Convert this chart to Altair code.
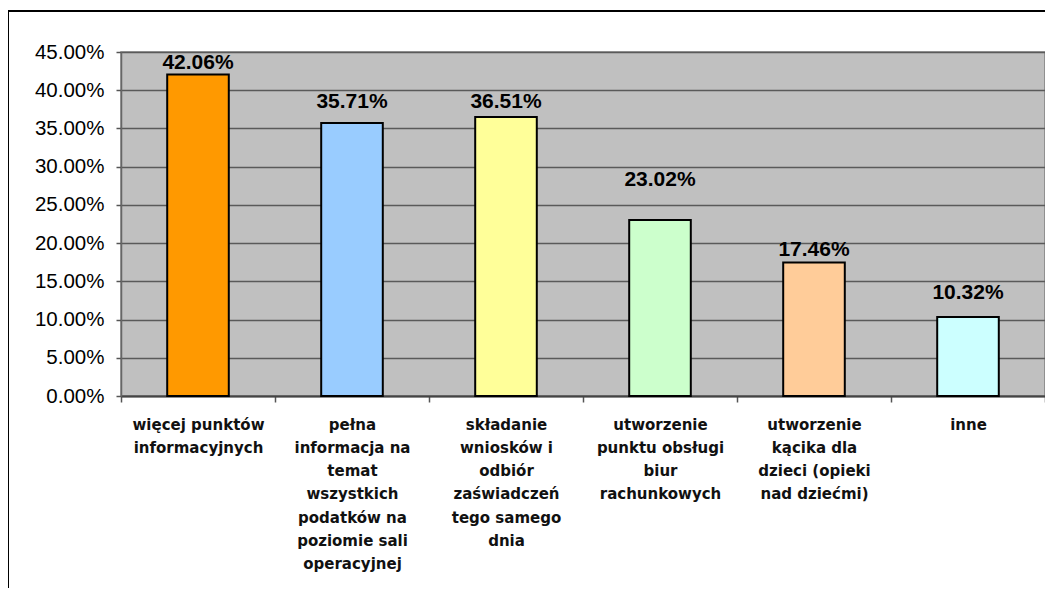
import altair as alt
import pandas as pd

# ---- data ----
categories = [
    "więcej punktów\ninformacyjnych",
    "pełna\ninformacja na\ntemat\nwszystkich\npodatków na\npoziomie sali\noperacyjnej",
    "składanie\nwniosków i\nodbiór\nzaświadczeń\ntego samego\ndnia",
    "utworzenie\npunktu obsługi\nbiur\nrachunkowych",
    "utworzenie\nkącika dla\ndzieci (opieki\nnad dziećmi)",
    "inne",
]
values_pct = [42.06, 35.71, 36.51, 23.02, 17.46, 10.32]
y_tick_values = [0.0, 0.05, 0.10, 0.15, 0.20, 0.25, 0.30, 0.35, 0.40, 0.45]

# ---- styling ----
bar_colors = ["#FF9900", "#99CCFF", "#FFFF99", "#CCFFCC", "#FFCC99", "#CCFFFF"]
label_raise_pct = [0.78, 1.96, 1.18, 4.45, 0.85, 2.35]  # gap of each data label above its bar

df = pd.DataFrame({
    "category": categories,
    "pct": values_pct,
    "raise": label_raise_pct,
})

PLOT_W = 924
PLOT_H = 344

base = alt.Chart(df).transform_calculate(
    value="datum.pct / 100",
    label_y="(datum.pct + datum.raise) / 100",
)

x_axis = alt.Axis(
    title=None,
    labelAngle=0,
    labelExpr="split(datum.label, '\\n')",
    labelFont="DejaVu Sans",
    labelFontWeight="bold",
    labelFontSize=15,
    labelLineHeight=23.3,
    labelColor="#111111",
    labelPadding=15,
    labelLimit=400,
    labelOverlap=False,
    tickBand="extent",
    tickSize=6,
    tickColor="#555555",
    tickWidth=1.5,
    domainColor="#444444",
    domainWidth=2,
    grid=False,
)

y_axis = alt.Axis(
    title=None,
    values=y_tick_values,
    format=".2%",
    grid=True,
    gridColor="#5a5a5a",
    gridWidth=1.5,
    labelFont="Liberation Sans",
    labelFontSize=20.5,
    labelColor="black",
    labelPadding=12,
    labelOverlap=False,
    labelBound=False,
    labelFlush=False,
    tickSize=5,
    tickColor="#555555",
    tickWidth=1.5,
    domainColor="#666666",
    domainWidth=1.5,
)

x_scale = alt.Scale(paddingInner=0, paddingOuter=0)
y_scale = alt.Scale(domain=[0, 0.45], nice=False, zero=True)

bars = base.mark_bar(
    width=alt.RelativeBandSize(0.4), stroke="black", strokeWidth=2
).encode(
    x=alt.X("category:N", sort=categories, scale=x_scale, axis=x_axis),
    y=alt.Y("value:Q", scale=y_scale, axis=y_axis),
    color=alt.Color(
        "category:N",
        scale=alt.Scale(domain=categories, range=bar_colors),
        legend=None,
    ),
)

labels = base.mark_text(
    baseline="alphabetic",
    align="center",
    font="Liberation Sans",
    fontWeight="bold",
    fontSize=21,
    color="black",
).encode(
    x=alt.X("category:N", sort=categories, scale=x_scale, axis=x_axis),
    y=alt.Y("label_y:Q", scale=y_scale, axis=y_axis),
    text=alt.Text("value:Q", format=".2%"),
)

frame = alt.Chart(alt.Data(values=[{"k": 1}])).mark_rect(
    fillOpacity=0, stroke="black", strokeWidth=2
).encode(
    x=alt.value(-113),
    x2=alt.value(1200),
    y=alt.value(-41),
    y2=alt.value(800),
)

chart = alt.layer(bars, labels, frame).properties(
    width=PLOT_W,
    height=PLOT_H,
    autosize=alt.AutoSizeParams(type="none"),
    padding={"left": 113, "top": 44, "right": 0, "bottom": 192},
    background="white",
).configure_view(
    fill="#C0C0C0",
    stroke="#808080",
    strokeWidth=1.5,
)

chart.save("out.html", embed_options={"renderer": "svg", "actions": False})
